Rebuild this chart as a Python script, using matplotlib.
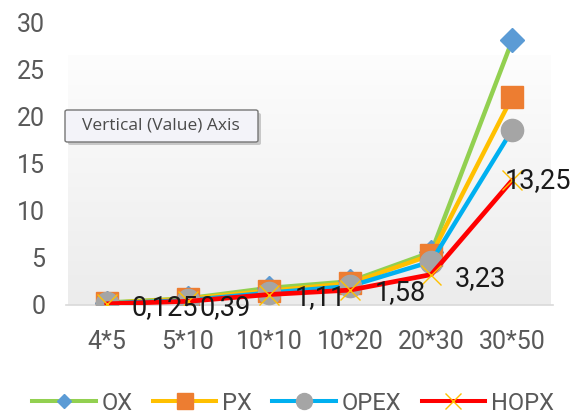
import numpy as np
import matplotlib
matplotlib.use('Agg')
import matplotlib.pyplot as plt
from matplotlib.lines import Line2D
from matplotlib.patches import FancyBboxPatch
from matplotlib.colors import LinearSegmentedColormap

plt.rcParams['font.family'] = ['Roboto', 'DejaVu Sans']

# data
categories = ['4*5', '5*10', '10*10', '10*20', '20*30', '30*50']
ox = [0.25, 0.7, 1.8, 2.5, 5.6, 28.1]
px = [0.2, 0.65, 1.5, 2.3, 5.3, 22.1]
opex = [0.18, 0.5, 1.3, 2.0, 4.6, 18.6]
hopx = [0.125, 0.39, 1.11, 1.58, 3.23, 13.25]
hopx_labels = ['0,125', '0,39', '1,11', '1,58', '3,23', '13,25']
yticks = [0, 5, 10, 15, 20, 25, 30]

# label placement (pixels from the point)
label_offsets = [(25, -4), (12, -6), (26, -3), (25, -2), (24, -4), (-8, -1)]

W, H = 576, 418
fig = plt.figure(figsize=(W / 100, H / 100), dpi=100)
ax = fig.add_axes([66 / W, 1 - 305 / H, (553 - 66) / W, (305 - 22) / H])

x = np.arange(len(categories))

# gradient plot area background
grad = np.linspace(1, 0, 256).reshape(-1, 1)
cmap = LinearSegmentedColormap.from_list('bg', ['#ececec', '#fdfdfd'])
ax.imshow(grad, cmap=cmap, aspect='auto', transform=ax.transAxes,
          extent=[2 / 487, 485 / 487, 0, (305 - 55) / 283], zorder=0,
          vmin=0, vmax=1)

series = [
    (ox, '#92D050', 'D', '#5B9BD5', 12.2, 'OX'),
    (px, '#FFC000', 's', '#ED7D31', 16.5, 'PX'),
    (opex, '#00B0F0', 'o', '#A5A5A5', 16, 'OPEX'),
]
for vals, lc, mk, mc, ms, name in series:
    ax.plot(x, vals, color=lc, lw=3.2, marker=mk, ms=ms, mfc=mc, mec=mc,
            zorder=3, solid_capstyle='round')
ax.plot(x, hopx, color='#FF0000', lw=3.4, zorder=3, solid_capstyle='round')
ax.plot(x, hopx, ls='none', marker='x', ms=15, mec='#FFC000', mew=1.0, zorder=4)

for xi, v, lab, (dx, dy) in zip(x, hopx, hopx_labels, label_offsets):
    ax.annotate(lab, (xi, v), xytext=(dx, dy), textcoords='offset pixels',
                ha='left', va='center', fontsize=19.5, color='#1a1a1a', zorder=5,
                annotation_clip=False)

ax.set_xlim(-0.5, len(categories) - 0.5)
ax.set_ylim(0, 30)
ax.set_yticks(yticks)
ax.set_xticks(x)
ax.set_xticklabels(categories)
ax.tick_params(axis='both', length=0, labelsize=18, labelcolor='#595959')
ax.tick_params(axis='y', pad=15)
ax.tick_params(axis='x', pad=18)
for s in ['top', 'right', 'left']:
    ax.spines[s].set_visible(False)
ax.spines['bottom'].set_color('#d9d9d9')
ax.spines['bottom'].set_linewidth(1.2)
ax.set_facecolor('none')

# legend
handles = [
    Line2D([], [], color='#92D050', lw=2.9, marker='D', ms=7.2, mfc='#5B9BD5', mec='#5B9BD5'),
    Line2D([], [], color='#FFC000', lw=2.9, marker='s', ms=12, mfc='#ED7D31', mec='#ED7D31'),
    Line2D([], [], color='#00B0F0', lw=2.9, marker='o', ms=11.5, mfc='#A5A5A5', mec='#A5A5A5'),
    Line2D([], [], color='#FF0000', lw=2.9, marker='x', ms=12, mec='#FFC000', mew=1.0),
]
leg = fig.legend(handles, ['OX', 'PX', 'OPEX', 'HOPX'], loc='center',
                 bbox_to_anchor=(293 / W, 1 - 403 / H), ncol=4, frameon=False,
                 fontsize=17, handlelength=2.7, handletextpad=0.25,
                 columnspacing=0.85, numpoints=1, borderpad=0)
for t in leg.get_texts():
    t.set_color('#595959')

# tooltip box
def px_box(x0, y0, x1, y1):
    return (x0 / W, 1 - y1 / H, (x1 - x0) / W, (y1 - y0) / H)

bx, by, bw, bh = px_box(68, 113, 261, 145)
fig.patches.append(FancyBboxPatch((bx, by), bw, bh, boxstyle='round,pad=0,rounding_size=0.004',
                                  transform=fig.transFigure, fc='#9a9a9a', ec='none',
                                  alpha=0.5, zorder=9))
bx, by, bw, bh = px_box(65, 110, 258, 142)
fig.patches.append(FancyBboxPatch((bx, by), bw, bh, boxstyle='round,pad=0,rounding_size=0.004',
                                  transform=fig.transFigure, fc='#f3f3f9', ec='#767676',
                                  lw=1.0, zorder=10))
fig.text(161 / W, 1 - 126 / H, 'Vertical (Value) Axis', ha='center', va='center',
         fontsize=12.5, color='#4a4a4a', zorder=11, family=['Open Sans', 'DejaVu Sans'])

fig.savefig('out.png', dpi=100)
